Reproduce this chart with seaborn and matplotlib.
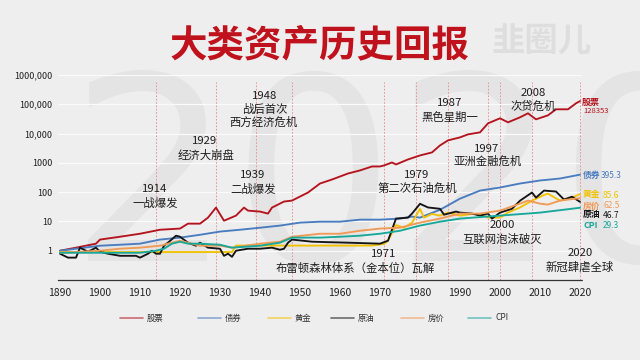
import numpy as np
import pandas as pd
import seaborn as sns
import matplotlib
matplotlib.use("Agg")
import matplotlib.pyplot as plt
from matplotlib.lines import Line2D

# ---------------- data ----------------
assets = ["股票", "债券", "黄金", "原油", "房价", "CPI"]
final_values = ["128353", "395.3", "85.6", "46.7", "62.5", "29.3"]

stock_years = [1890, 1894, 1899, 1900, 1905, 1910, 1915, 1920, 1922, 1925, 1927, 1929, 1931, 1934,
               1936, 1937, 1940, 1942, 1943, 1946, 1948, 1952, 1955, 1958, 1962, 1965, 1968, 1970,
               1971, 1973, 1974, 1977, 1980, 1983, 1985, 1987, 1990, 1992, 1995, 1997, 2000, 2002,
               2005, 2007, 2009, 2012, 2014, 2017, 2019, 2020]
stock = [1.0, 1.27, 1.74, 2.4, 3.0, 3.8, 5.2, 5.7, 8.4, 8.4, 13.5, 29.7, 10.6, 15.8,
         29.7, 23.4, 21.7, 18.5, 29.7, 47.7, 51.5, 97, 197, 270, 433, 552, 753, 753,
         815, 1032, 881, 1307, 1792, 2271, 3944, 5850, 7414, 9390, 11000, 22350, 33200, 24200,
         35900, 49200, 30600, 42000, 67400, 67400, 108000, 128353]

bond_years = [1890, 1900, 1905, 1910, 1915, 1920, 1925, 1930, 1935, 1940, 1945, 1950, 1955, 1960,
              1965, 1970, 1975, 1978, 1980, 1985, 1990, 1995, 2000, 2005, 2010, 2015, 2020]
bond = [1.0, 1.48, 1.6, 1.74, 2.4, 2.8, 3.5, 4.5, 5.2, 6.1, 7.2, 9.1, 9.8, 9.8,
        11.5, 11.5, 12.5, 14.6, 13.5, 25, 60, 113, 144, 197, 250, 292, 395.3]

gold_years = [1890, 1933, 1934, 1968, 1971, 1972, 1974, 1976, 1978, 1980, 1981, 1983, 1985, 1987,
              1990, 1993, 1995, 1997, 2000, 2002, 2005, 2008, 2011, 2012, 2015, 2018, 2020]
gold = [0.9, 0.9, 1.5, 1.5, 1.7, 2.2, 7.5, 6.1, 9.0, 27, 13.5, 18, 15.8, 20,
        15.8, 18, 18, 13.5, 13.5, 20, 30, 51, 80, 89, 51, 65, 85.6]

oil_years = [1890, 1892, 1894, 1895, 1897, 1899, 1900, 1902, 1905, 1909, 1910, 1912, 1913, 1914,
             1915, 1916, 1917, 1919, 1920, 1922, 1924, 1925, 1927, 1930, 1931, 1932, 1933, 1934,
             1937, 1940, 1943, 1945, 1946, 1947, 1948, 1953, 1962, 1970, 1972, 1974, 1977, 1978,
             1980, 1982, 1985, 1986, 1989, 1990, 1993, 1995, 1997, 1998, 2000, 2003, 2005, 2008,
             2009, 2011, 2014, 2016, 2018, 2020]
oil = [0.79, 0.58, 0.58, 1.27, 0.92, 1.27, 0.92, 0.79, 0.67, 0.67, 0.58, 0.79, 1.0, 0.79,
       0.79, 1.48, 1.88, 3.26, 3.0, 1.88, 1.48, 1.88, 1.27, 1.17, 0.67, 0.79, 0.62, 1.0,
       1.17, 1.17, 1.27, 1.08, 1.17, 1.88, 2.4, 2.03, 1.88, 1.74, 2.2, 12.5, 13.5, 18.5,
       40, 30, 27, 17, 21.7, 20, 18.5, 15.8, 18.5, 12.5, 20, 27, 51, 97,
       65, 113, 105, 56, 70, 46.7]

house_years = [1890, 1900, 1905, 1910, 1915, 1920, 1925, 1930, 1933, 1940, 1945, 1948, 1955, 1960,
               1965, 1970, 1975, 1980, 1985, 1990, 1995, 2000, 2005, 2007, 2010, 2012, 2015, 2020]
house = [0.85, 1.0, 1.17, 1.27, 1.48, 2.2, 1.48, 1.48, 1.27, 1.74, 2.03, 3.0, 3.8, 3.8,
         4.8, 5.7, 6.1, 9.1, 12.5, 18.5, 18.5, 23.4, 40.5, 51.5, 40.5, 37.6, 51.5, 62.5]

cpi_years = [1890, 1900, 1910, 1914, 1916, 1918, 1920, 1922, 1925, 1930, 1933, 1940, 1945, 1948,
             1955, 1960, 1965, 1970, 1975, 1980, 1985, 1990, 2000, 2010, 2020]
cpi = [0.85, 0.85, 0.85, 1.0, 1.17, 1.74, 2.03, 1.74, 1.74, 1.6, 1.27, 1.48, 1.88, 2.8,
       2.8, 3.0, 3.26, 3.8, 4.8, 7.2, 9.8, 12.5, 15.8, 20, 29.3]

event_years = [1914, 1929, 1939, 1948, 1971, 1979, 1987, 1997, 2000, 2008, 2020]

ytick_vals = [1, 10, 100, 1000, 10000, 100000, 1000000]
ytick_labels = ["1", "10", "100", "1000", "10,000", "100,000", "1000,000"]
xtick_vals = [1890, 1900, 1910, 1920, 1930, 1940, 1950, 1960, 1970, 1980, 1990, 2000, 2010, 2020]

colors = {"股票": "#b5141e", "债券": "#4a7cc0", "黄金": "#f2c200",
          "原油": "#151515", "房价": "#f09a55", "CPI": "#17a89a"}

series = {"股票": (stock_years, stock), "债券": (bond_years, bond), "黄金": (gold_years, gold),
          "原油": (oil_years, oil), "房价": (house_years, house), "CPI": (cpi_years, cpi)}

frames = [pd.DataFrame({"year": ys, "value": vs, "asset": name}) for name, (ys, vs) in series.items()]
df = pd.concat(frames, ignore_index=True)

# ---------------- style ----------------
sns.set_style("white")
plt.rcParams["font.family"] = ["Noto Sans CJK SC", "DejaVu Sans"]

W, H = 640, 360
fig = plt.figure(figsize=(6.4, 3.6), dpi=100, facecolor="#eeeeee")

def fx(px):
    return px / W

def fy(py):
    return 1 - py / H

# faint background watermark (drawn beneath the axes)
fig.text(fx(395), fy(190), "2020", fontsize=185, color="#e4e4e4", ha="center", va="center",
         family="DejaVu Sans", zorder=-2)
fig.text(fx(542), fy(42), "韭圈儿", fontsize=24, color="#dedede", ha="center", va="center",
         weight="bold", zorder=-2)

ax = fig.add_axes([fx(58), fy(280), fx(582) - fx(58), fy(75) - fy(280)])
ax.set_facecolor("none")
ax.set_zorder(1)

sns.lineplot(data=df, x="year", y="value", hue="asset", hue_order=assets, palette=colors,
             ax=ax, legend=False, linewidth=1.35, estimator=None, sort=True)

ax.set_yscale("log")
ax.set_ylim(0.1, 1000000)
ax.set_xlim(1889.5, 2020.5)
ax.set_yticks(ytick_vals)
ax.set_yticklabels(ytick_labels)
ax.yaxis.set_minor_locator(matplotlib.ticker.NullLocator())
ax.set_xticks(xtick_vals)
ax.set_xlabel("")
ax.set_ylabel("")
ax.grid(axis="y", color="#fbfbfb", linewidth=0.9)
ax.set_axisbelow(True)
for s in ["top", "right", "left"]:
    ax.spines[s].set_visible(False)
ax.spines["bottom"].set_linestyle((0, (1, 1)))
ax.spines["bottom"].set_color("#333333")
ax.spines["bottom"].set_linewidth(0.9)
ax.tick_params(axis="y", length=0, pad=4, labelsize=6.5, labelcolor="#222222")
ax.tick_params(axis="x", length=2, width=1.2, color="#333333", pad=4, labelsize=7.5,
               labelcolor="#222222")

for yr in event_years:
    ax.axvline(yr, ymin=0, ymax=0.965, color="#e48a8a", linestyle=(0, (2, 2)), linewidth=0.6,
               zorder=1)

# annotations (centre x, y of lines in pixels)
ann = [
    ("1914", 155, 189), ("一战爆发", 155, 203),
    ("1929", 205, 141), ("经济大崩盘", 206, 155),
    ("1939", 253, 175), ("二战爆发", 253, 189),
    ("1948", 265, 96), ("战后首次", 265, 109), ("西方经济危机", 264, 122),
    ("1971", 384, 254), ("布雷顿森林体系（金本位）瓦解", 355, 268),
    ("1979", 417, 175), ("第二次石油危机", 417, 188),
    ("1987", 450, 103), ("黑色星期一", 450, 117),
    ("1997", 487, 149), ("亚洲金融危机", 488, 161),
    ("2000", 502, 225), ("互联网泡沫破灭", 502, 239),
    ("2008", 533, 93), ("次贷危机", 533, 106),
    ("2020", 580, 253), ("新冠肆虐全球", 580, 267),
]
for txt, px, py in ann:
    fig.text(fx(px), fy(py), txt, fontsize=8.2, color="#1e1e1e", ha="center", va="center",
             zorder=5)

# right-side end labels
fig.text(fx(582), fy(102), assets[0], fontsize=6.5, color=colors["股票"], ha="left", va="center",
         weight="bold", zorder=5)
fig.text(fx(583), fy(111), final_values[0], fontsize=5.5, color=colors["股票"], ha="left",
         va="center", zorder=5)
end_rows = [("债券", final_values[1], 175, 601), ("黄金", final_values[2], 195, 603),
            ("房价", final_values[4], 206, 603), ("原油", final_values[3], 215, 603),
            ("CPI", final_values[5], 225, 603)]
for name, val, py, vx in end_rows:
    c = colors[name]
    fig.text(fx(583), fy(py), name, fontsize=6.3, color=c, ha="left", va="center", weight="bold",
             zorder=5)
    fig.text(fx(vx), fy(py), val, fontsize=6.0, color=c, ha="left", va="center", zorder=5)

# legend
leg_x = [120, 198, 268, 331, 401, 468]
for name, lx in zip(assets, leg_x):
    fig.add_artist(Line2D([fx(lx), fx(lx + 23)], [fy(318), fy(318)], color=colors[name],
                          linewidth=1.2, alpha=0.6, transform=fig.transFigure))
    fig.text(fx(lx + 27), fy(318), name, fontsize=6, color="#333333", ha="left", va="center")

# title
fig.text(fx(320), fy(45), "大类资产历史回报", fontsize=27, color="#c0121c", ha="center",
         va="center", weight="heavy", zorder=5)

fig.savefig("out.png", dpi=100, facecolor=fig.get_facecolor())
